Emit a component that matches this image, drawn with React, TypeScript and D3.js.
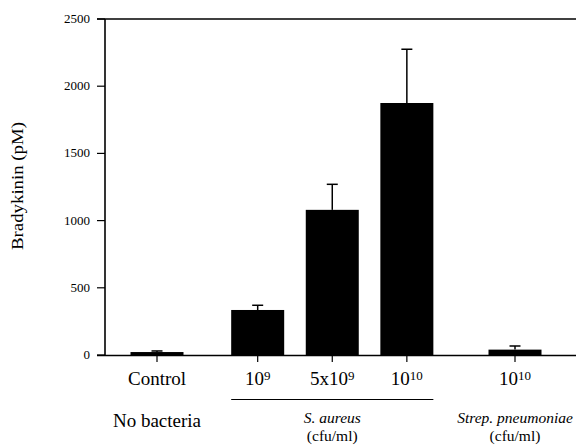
import React, { useEffect, useRef } from 'react';
import * as d3 from 'd3';

// bradykinin levels (pM) by bacterial challenge
const categories = ['Control', '10^9', '5x10^9', '10^10', '10^10'];
const means = [22, 335, 1080, 1875, 40];
const errors = [8, 35, 190, 400, 27];
// horizontal slot of each bar (groups are spaced apart)
const slots = [0, 1.35, 2.35, 3.35, 4.8];
const yTicks = [0, 500, 1000, 1500, 2000, 2500];

const serif = "'Liberation Serif', serif";

const App = () => {
  const svgRef = useRef<SVGSVGElement>(null);

  useEffect(() => {
    const svg = d3.select(svgRef.current);
    svg.selectAll('*').remove();

    const axisX = 105;
    const right = 576;
    const y = d3.scaleLinear().domain([0, 2500]).range([355, 19]);
    const x = d3.scaleLinear().domain([0, 4.8]).range([157, 515]);
    const barW = 53;

    //frame: top line, left axis, baseline
    svg.append('line').attr('x1', 97).attr('x2', right).attr('y1', y(2500)).attr('y2', y(2500))
      .attr('stroke', '#000').attr('stroke-width', 1.5);
    svg.append('line').attr('x1', 97).attr('x2', right).attr('y1', y(0) + 0.5).attr('y2', y(0) + 0.5)
      .attr('stroke', '#000').attr('stroke-width', 1.6);
    svg.append('line').attr('x1', axisX).attr('x2', axisX).attr('y1', y(2500)).attr('y2', y(0) + 1)
      .attr('stroke', '#000').attr('stroke-width', 1.6);

    //y ticks
    const yt = svg.append('g');
    yt.selectAll('line').data(yTicks).enter().append('line')
      .attr('x1', 97).attr('x2', axisX)
      .attr('y1', (d) => y(d)).attr('y2', (d) => y(d))
      .attr('stroke', '#000').attr('stroke-width', 1.2);
    yt.selectAll('text').data(yTicks).enter().append('text')
      .attr('x', 90).attr('y', (d) => y(d) + 4)
      .attr('text-anchor', 'end').attr('font-size', 13)
      .text((d) => d);

    //y label
    svg.append('text')
      .attr('transform', `translate(23, 186) rotate(-90)`)
      .attr('text-anchor', 'middle').attr('font-size', 16)
      .attr('textLength', 128).attr('lengthAdjust', 'spacingAndGlyphs')
      .text('Bradykinin (pM)');

    //bars
    svg.selectAll('.bar').data(means).enter().append('rect')
      .attr('class', 'bar')
      .attr('x', (d, i) => x(slots[i]) - barW / 2)
      .attr('y', (d) => y(d))
      .attr('width', barW)
      .attr('height', (d) => y(0) - y(d))
      .attr('fill', '#000');

    //error bars
    const eb = svg.selectAll('.err').data(means).enter().append('g').attr('class', 'err');
    eb.append('line')
      .attr('x1', (d, i) => x(slots[i])).attr('x2', (d, i) => x(slots[i]))
      .attr('y1', (d) => y(d)).attr('y2', (d, i) => y(d + errors[i]))
      .attr('stroke', '#000').attr('stroke-width', 1.5);
    eb.append('line')
      .attr('x1', (d, i) => x(slots[i]) - 5.5).attr('x2', (d, i) => x(slots[i]) + 5.5)
      .attr('y1', (d, i) => y(d + errors[i])).attr('y2', (d, i) => y(d + errors[i]))
      .attr('stroke', '#000').attr('stroke-width', 1.5);

    //category ticks below axis
    svg.selectAll('.xtick').data(slots).enter().append('line')
      .attr('class', 'xtick')
      .attr('x1', (d) => x(d)).attr('x2', (d) => x(d))
      .attr('y1', y(0)).attr('y2', y(0) + 7)
      .attr('stroke', '#000').attr('stroke-width', 1.2);

    //category labels with superscripts
    const labels = svg.selectAll('.xlabel').data(categories).enter().append('text')
      .attr('class', 'xlabel')
      .attr('x', (d, i) => x(slots[i])).attr('y', 385)
      .attr('text-anchor', 'middle').attr('font-size', 19);
    labels.each(function (d) {
      const t = d3.select(this);
      const parts = d.split('^');
      t.append('tspan').text(parts[0]);
      if (parts[1]) {
        t.append('tspan').attr('dy', -5).attr('font-size', 13).text(parts[1]);
      }
    });

    //group labels
    svg.append('line').attr('x1', x(slots[1]) - barW / 2).attr('x2', x(slots[3]) + barW / 2)
      .attr('y1', 399.5).attr('y2', 399.5).attr('stroke', '#000').attr('stroke-width', 1.2);
    svg.append('text').attr('x', x(slots[0])).attr('y', 427)
      .attr('text-anchor', 'middle').attr('font-size', 19)
      .text('No bacteria');
    const groups = [
      { name: 'S. aureus', at: x(slots[2]) },
      { name: 'Strep. pneumoniae', at: x(slots[4]) }
    ];
    groups.forEach((g) => {
      svg.append('text').attr('x', g.at).attr('y', 423)
        .attr('text-anchor', 'middle').attr('font-size', 15.5)
        .attr('font-style', 'italic').text(g.name);
      svg.append('text').attr('x', g.at).attr('y', 441)
        .attr('text-anchor', 'middle').attr('font-size', 15.5)
        .text('(cfu/ml)');
    });
  }, []);

  return (
    <svg ref={svgRef} width={576} height={447}
      style={{ position: 'absolute', left: 0, top: 0, background: '#fff', fontFamily: serif }} />
  );
};

export default App;
